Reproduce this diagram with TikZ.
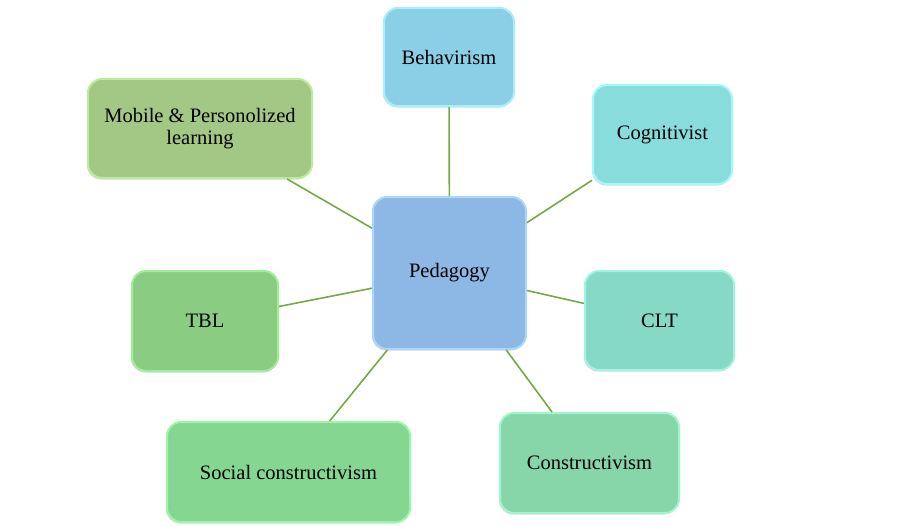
\documentclass[tikz,border=0pt]{standalone}
\usepackage{fontspec}
\setmainfont{Liberation Serif}
\usetikzlibrary{shadows}
\begin{document}
\begin{tikzpicture}[x=1pt,y=-1pt,
  box/.style={rectangle, rounded corners=14pt, line width=2pt, align=center,
    font=\fontsize{20.5}{22}\selectfont, inner sep=2pt, outer sep=1pt,
    drop shadow={shadow xshift=-1pt, shadow yshift=-1.5pt, fill=black!30, opacity=0.5}},
  link/.style={draw=linkc, line width=1.6pt}
]
\definecolor{linkc}{HTML}{77A841}
\definecolor{behf}{HTML}{8ACFE6}\definecolor{behd}{HTML}{A8EEFC}
\definecolor{cogf}{HTML}{88DCDC}\definecolor{cogd}{HTML}{A2F8FA}
\definecolor{mobf}{HTML}{A3C785}\definecolor{mobd}{HTML}{BBEC9C}
\definecolor{pedf}{HTML}{8DB8E6}\definecolor{pedd}{HTML}{AAD6FF}
\definecolor{tblf}{HTML}{8ACC82}\definecolor{tbld}{HTML}{A0EE99}
\definecolor{cltf}{HTML}{86D9C4}\definecolor{cltd}{HTML}{9EF6E0}
\definecolor{socf}{HTML}{85D691}\definecolor{socd}{HTML}{9DF5A8}
\definecolor{conf}{HTML}{86D6AA}\definecolor{cond}{HTML}{9EF6CA}
\useasboundingbox (0,0) rectangle (900,527);
\node[box, fill=behf, draw=behd, minimum width=130pt, minimum height=98pt] (beh) at (449,57) {Behavirism};
\node[box, fill=cogf, draw=cogd, minimum width=139pt, minimum height=99pt] (cog) at (662.5,134.5) {Cognitivist};
\node[box, fill=mobf, draw=mobd, minimum width=224pt, minimum height=99pt] (mob) at (200,128.5) {Mobile \& Personolized\\learning};
\node[box, fill=pedf, draw=pedd, minimum width=153pt, minimum height=152pt] (ped) at (449.5,273) {Pedagogy};
\node[box, fill=tblf, draw=tbld, minimum width=146pt, minimum height=100pt] (tbl) at (205,321) {TBL};
\node[box, fill=cltf, draw=cltd, minimum width=149pt, minimum height=99pt] (clt) at (659.5,320.5) {CLT};
\node[box, fill=socf, draw=socd, minimum width=243pt, minimum height=100pt] (soc) at (288.5,472) {Social constructivism};
\node[box, fill=conf, draw=cond, minimum width=179pt, minimum height=100pt] (con) at (589.5,463) {Constructivism};
\foreach \n in {beh,cog,mob,tbl,clt,soc,con}
  \draw[link] (ped) -- (\n);
\end{tikzpicture}
\end{document}
